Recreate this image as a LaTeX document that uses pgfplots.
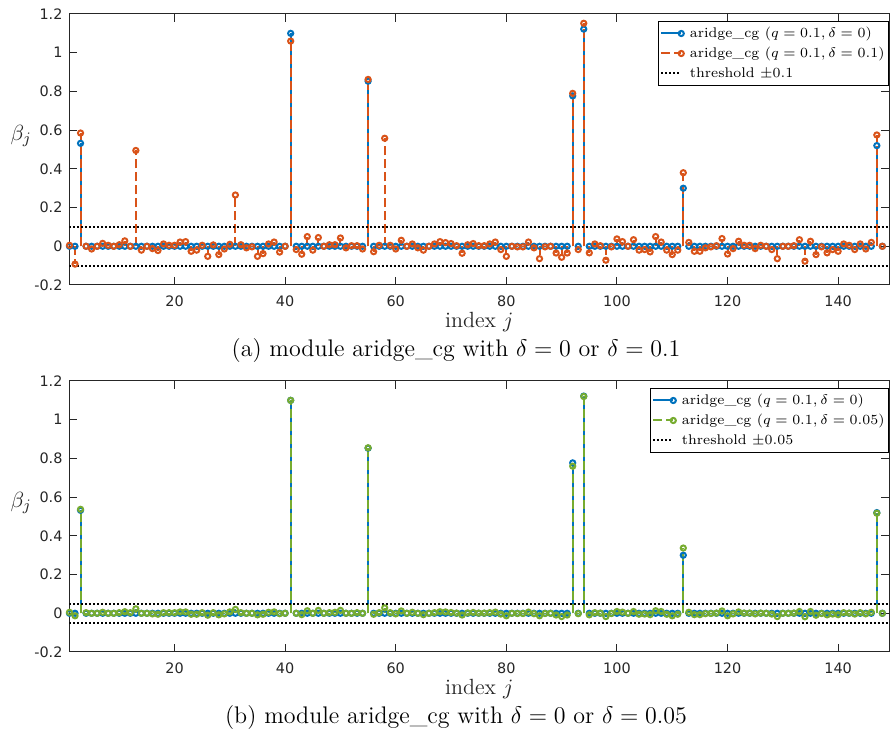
\documentclass[border=0pt]{standalone}
\usepackage{fontspec}
\usepackage{pgfplots}
\usepackage{pgfplotstable}
\pgfplotsset{compat=1.18}
\newfontfamily\tickfont{DejaVu Sans}
\definecolor{mblue}{rgb}{0,0.447,0.741}
\definecolor{morange}{rgb}{0.85,0.325,0.098}
\definecolor{mgreen}{rgb}{0.466,0.674,0.188}
\definecolor{mgrey}{rgb}{0.15,0.15,0.15}

% j, delta=0 (blue), delta=0.1 (orange), delta=0.05 (green)
\pgfplotstableread{
j b o g
1 0 0.005 0.005
2 0 -0.092 -0.013
3 0.532 0.585 0.537
4 0 0.0 0.003
5 0 -0.014 0.0
6 0 0.0 0.0
7 0 0.015 0.005
8 0 0.005 0.0
9 0 0.0 0.0
10 0 0.008 0.003
11 0 0.028 0.008
12 0 0.0 0.003
13 0 0.495 0.023
14 0 -0.02 0.0
15 0 0.0 0.0
16 0 -0.012 -0.003
17 0 -0.022 -0.005
18 0 0.012 0.003
19 0 0.005 0.003
20 0 0.005 0.003
21 0 0.022 0.007
22 0 0.024 0.007
23 0 -0.026 -0.005
24 0 -0.02 -0.005
25 0 0.005 0.003
26 0 -0.052 -0.01
27 0 0.007 0.003
28 0 -0.043 -0.008
29 0 -0.014 -0.003
30 0 0.01 0.007
31 0 0.265 0.02
32 0 0.008 0.003
33 0 -0.008 0.0
34 0 -0.003 0.0
35 0 -0.052 -0.008
36 0 -0.038 -0.005
37 0 0.012 0.005
38 0 0.022 0.007
39 0 -0.03 -0.002
40 0 0.0 0.0
41 1.10 1.06 1.10
42 0 -0.017 0.0
43 0 -0.041 -0.007
44 0 0.05 0.013
45 0 -0.02 0.0
46 0 0.045 0.015
47 0 0.0 0.0
48 0 0.008 0.003
49 0 0.008 0.005
50 0 0.043 0.015
51 0 -0.008 0.0
52 0 0.003 0.0
53 0 0.003 0.003
54 0 -0.014 0.0
55 0.853 0.862 0.855
56 0 -0.028 -0.005
57 0 0.005 0.003
58 0 0.558 0.028
59 0 0.005 0.003
60 0 -0.014 -0.003
61 0 0.031 0.012
62 0 0.0 0.0
63 0 0.012 0.005
64 0 -0.008 0.0
65 0 -0.02 -0.007
66 0 0.0 0.0
67 0 0.012 0.003
68 0 0.024 0.008
69 0 0.019 0.007
70 0 0.014 0.004
71 0 0.003 0.001
72 0 -0.036 -0.009
73 0 0.008 0.002
74 0 0.014 0.004
75 0 0.003 0.001
76 0 0.003 0.001
77 0 0.012 0.003
78 0 0.022 0.006
79 0 -0.017 -0.004
80 0 -0.052 -0.013
81 0 0.0 0.0
82 0 -0.003 -0.001
83 0 -0.003 -0.001
84 0 0.022 0.006
85 0 -0.008 -0.002
86 0 -0.064 -0.013
87 0 -0.003 -0.001
88 0 0.0 0.0
89 0 -0.035 -0.009
90 0 -0.057 -0.017
91 0 -0.035 -0.009
92 0.777 0.79 0.76
93 0 -0.017 -0.002
94 1.122 1.152 1.12
95 0 -0.034 -0.008
96 0 0.012 0.003
97 0 0.003 0.001
98 0 -0.072 -0.017
99 0 -0.003 -0.001
100 0 0.038 0.009
101 0 0.024 0.006
102 0 0.0 0.0
103 0 0.034 0.009
104 0 -0.02 -0.005
105 0 -0.017 -0.004
106 0 -0.029 -0.007
107 0 0.05 0.013
108 0 0.022 0.009
109 0 -0.02 -0.005
110 0 -0.043 -0.013
111 0 -0.02 -0.005
112 0.30 0.38 0.337
113 0 0.02 0.005
114 0 -0.026 -0.007
115 0 -0.026 -0.007
116 0 -0.008 -0.002
117 0 -0.003 -0.001
118 0 0.003 0.001
119 0 0.04 0.012
120 0 -0.04 -0.013
121 0 -0.012 -0.003
122 0 0.026 0.007
123 0 0.005 0.001
124 0 0.005 0.001
125 0 -0.012 -0.003
126 0 0.005 0.001
127 0 0.0 0.0
128 0 -0.017 -0.004
129 0 -0.064 -0.017
130 0 0.0 0.0
131 0 0.0 0.0
132 0 0.003 0.001
133 0 0.034 0.009
134 0 -0.077 -0.018
135 0 0.026 0.009
136 0 -0.043 -0.01
137 0 -0.003 -0.001
138 0 -0.034 -0.008
139 0 -0.017 -0.004
140 0 -0.026 -0.007
141 0 0.012 0.003
142 0 0.005 0.001
143 0 -0.017 -0.004
144 0 0.012 0.003
145 0 -0.014 -0.003
146 0 0.02 0.005
147 0.52 0.575 0.517
148 0 0.0 0.0
}\betas

\pgfplotsset{
  legend image code/.code={\draw[mark repeat=2, mark phase=2, #1]
    plot coordinates {(0pt,0pt) (10pt,0pt)};},
  stemaxis/.style={
    scale only axis, width=409.75pt, height=135.5pt,
    xmin=1, xmax=149.2, ymin=-0.2, ymax=1.2,
    xtick={20,40,60,80,100,120,140},
    ytick={-0.2,0,0.2,0.4,0.6,0.8,1,1.2},
    yticklabels={-0.2,0,0.2,0.4,0.6,0.8,1,1.2},
    /pgf/number format/assume math mode=true,
    tick align=inside, major tick length=3.8pt,
    axis line style={draw=mgrey, line width=0.5pt},
    every tick/.style={mgrey, line width=0.5pt},
    tick label style={font=\tickfont\fontsize{7.2}{8}\selectfont, text=mgrey},
    xticklabel style={yshift=-2pt},
    xlabel={index $j$},
    every axis x label/.style={at={(axis description cs:0.5,0)}, anchor=base, yshift=-21.5pt,
      font=\fontsize{11}{13}\selectfont, text=mgrey},
    ylabel={$\beta_j$},
    every axis y label/.style={at={(axis description cs:-0.059,0.55)}, anchor=center,
      font=\fontsize{11}{13}\selectfont, text=mgrey},
    legend style={at={(1,1)}, anchor=north east, yshift=-3.5pt,
      font=\fontsize{7}{9}\selectfont, draw=black, line width=0.5pt,
      inner sep=1pt, row sep=0pt,
      nodes={inner sep=1pt, text height=6pt, text depth=2pt},
      /tikz/every odd column/.append style={column sep=2pt}},
    legend cell align=left,
  },
  stem/.style={ycomb, mark=o, mark size=1.3pt, line width=1pt,
    mark options={solid, line width=1pt}},
  legmark/.style={line width=1pt, mark=o, mark size=1.3pt,
    mark options={solid, line width=1pt}},
  thresh/.style={black, line width=1pt, dash pattern=on 1pt off 1pt},
}

\begin{document}
\begin{tikzpicture}
\path[use as bounding box] (-34.75pt,-223.5pt) rectangle (410.25pt,142.5pt);

% (a)
\begin{axis}[stemaxis, name=a, at={(0pt,0pt)}, anchor=south west]
  \addplot[stem, color=mblue, forget plot] table[x=j, y=b] {\betas};
  \addplot[stem, color=morange, dash pattern=on 4.5pt off 2pt, forget plot] table[x=j, y=o] {\betas};
  \addplot[thresh, forget plot] coordinates {(1,0.1) (149.2,0.1)};
  \addplot[thresh, forget plot] coordinates {(1,-0.1) (149.2,-0.1)};
  \addlegendimage{legmark, color=mblue}
  \addlegendentry{aridge\_cg ($q=0.1,\delta=0$)}
  \addlegendimage{legmark, color=morange, dash pattern=on 4.5pt off 2pt}
  \addlegendentry{aridge\_cg ($q=0.1,\delta=0.1$)}
  \addlegendimage{thresh}
  \addlegendentry{threshold $\pm0.1$}
\end{axis}
\node[anchor=base, font=\fontsize{12}{14}\selectfont, xshift=193.25pt, yshift=-36pt] at (a.south west)
  {(a) module aridge\_cg with $\delta=0$ or $\delta=0.1$};

% (b)
\begin{axis}[stemaxis, name=b, at={(0pt,-183.5pt)}, anchor=south west]
  \addplot[stem, color=mblue, forget plot] table[x=j, y=b] {\betas};
  \addplot[stem, color=mgreen, dash pattern=on 4.5pt off 2pt, forget plot] table[x=j, y=g] {\betas};
  \addplot[thresh, forget plot] coordinates {(1,0.05) (149.2,0.05)};
  \addplot[thresh, forget plot] coordinates {(1,-0.05) (149.2,-0.05)};
  \addlegendimage{legmark, color=mblue}
  \addlegendentry{aridge\_cg ($q=0.1,\delta=0$)}
  \addlegendimage{legmark, color=mgreen, dash pattern=on 4.5pt off 2pt}
  \addlegendentry{aridge\_cg ($q=0.1,\delta=0.05$)}
  \addlegendimage{thresh}
  \addlegendentry{threshold $\pm0.05$}
\end{axis}
\node[anchor=base, font=\fontsize{12}{14}\selectfont, xshift=193.25pt, yshift=-36pt] at (b.south west)
  {(b) module aridge\_cg with $\delta=0$ or $\delta=0.05$};
\end{tikzpicture}
\end{document}
